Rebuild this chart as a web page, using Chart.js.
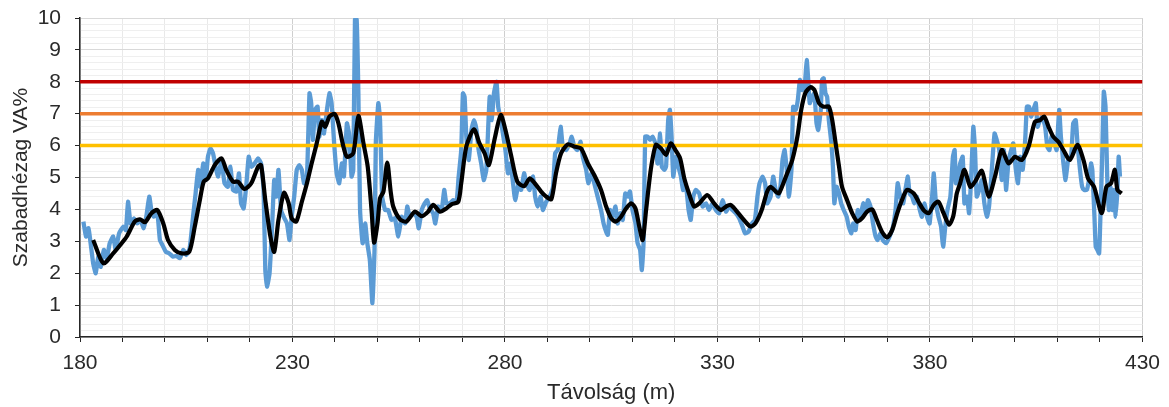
<!DOCTYPE html>
<html>
<head>
<meta charset="utf-8">
<script src="https://cdn.jsdelivr.net/npm/chart.js@4.4.1/dist/chart.umd.min.js"></script>
<style>
html, body { margin: 0; padding: 0; background: #fff; }
</style>
</head>
<body>
<canvas id="c" width="1169" height="407"></canvas>
<script>
'use strict';

// measured clearance (blue), [distance m, VA%]
var measured = [
	[180.8, 3.62], [181.4, 3.15], [182.0, 3.41], [182.5, 2.94], [183.1, 2.31], [183.7, 2.0],
	[184.3, 2.52], [184.9, 2.2], [185.6, 2.73], [186.3, 2.47], [187.0, 2.94], [187.8, 3.15],
	[188.4, 2.73], [189.2, 3.25], [190.2, 3.46], [190.8, 3.35], [191.3, 4.24], [191.9, 3.56],
	[192.7, 3.72], [193.5, 3.56], [194.2, 3.67], [195.0, 3.41], [195.6, 3.77], [196.3, 4.40],
	[196.8, 3.98], [197.4, 3.77], [198.2, 3.88], [198.8, 3.04], [199.4, 2.88], [200.2, 2.67],
	[201.0, 2.62], [201.9, 2.52], [202.7, 2.54], [203.5, 2.47], [204.3, 2.73], [205.0, 2.57],
	[205.8, 2.78], [206.6, 3.77], [207.2, 4.5], [207.8, 5.24], [208.3, 4.71], [209.0, 5.44],
	[209.6, 4.92], [210.1, 5.65], [210.7, 5.91], [211.3, 5.76], [211.9, 5.34], [212.5, 5.03],
	[213.3, 5.55], [214.0, 4.82], [214.8, 4.71], [215.4, 5.34], [216.0, 4.61], [216.8, 4.56],
	[217.4, 5.13], [217.9, 4.19], [218.5, 4.03], [219.1, 4.71], [219.7, 5.65], [220.3, 5.34],
	[221.1, 5.44], [221.9, 5.6], [222.6, 5.44], [223.2, 4.61], [223.6, 2.1], [224.0, 1.58],
	[224.6, 2.0], [225.2, 3.46], [225.7, 4.92], [226.2, 4.40], [226.7, 5.24], [227.3, 3.98],
	[227.9, 3.77], [228.7, 3.56], [229.3, 3.04], [229.8, 3.77], [230.4, 4.40], [231.0, 5.24],
	[231.6, 5.39], [232.2, 5.24], [232.7, 4.82], [233.4, 5.03], [234.0, 7.64], [234.4, 7.33],
	[234.8, 6.18], [235.3, 7.12], [235.9, 7.22], [236.3, 6.28], [236.9, 6.80], [237.4, 6.38],
	[238.1, 7.12], [238.7, 7.64], [239.2, 7.33], [239.8, 6.07], [240.4, 5.13], [241.0, 4.82],
	[241.6, 5.44], [242.1, 5.03], [242.8, 6.70], [243.3, 6.38], [243.9, 5.03], [244.3, 5.24],
	[244.7, 9.95], [245.1, 9.95], [245.5, 7.64], [245.9, 3.98], [246.5, 2.94], [247.1, 3.56],
	[247.6, 2.94], [248.2, 2.41], [248.8, 1.06], [249.3, 2.73], [249.6, 6.07], [250.2, 7.33],
	[250.6, 6.80], [251.1, 4.40], [251.8, 3.98], [252.5, 3.98], [253.3, 3.67], [254.1, 3.72],
	[254.9, 3.15], [255.7, 3.77], [256.5, 3.56], [257.0, 4.09], [257.6, 3.77], [258.4, 3.88],
	[259.2, 3.77], [259.7, 3.41], [260.4, 3.98], [261.1, 4.19], [261.7, 4.29], [262.3, 4.03],
	[263.1, 3.88], [263.6, 3.56], [264.3, 4.09], [265.1, 3.98], [265.7, 4.61], [266.2, 4.19],
	[267.0, 4.19], [267.8, 4.29], [268.6, 4.24], [269.1, 5.03], [269.7, 5.86], [270.1, 7.64],
	[270.5, 7.53], [270.9, 6.28], [271.5, 5.55], [272.1, 6.49], [272.7, 6.80], [273.3, 6.49],
	[273.8, 5.86], [274.4, 5.44], [275.0, 4.92], [275.6, 5.24], [276.4, 7.53], [276.9, 6.80],
	[277.4, 7.64], [278.0, 8.0], [278.4, 7.22], [279.0, 6.80], [279.5, 6.38], [280.1, 5.86],
	[280.7, 5.13], [281.3, 5.44], [281.9, 4.82], [282.4, 4.29], [283.2, 4.82], [283.8, 4.61],
	[284.5, 5.13], [285.0, 4.82], [285.8, 4.61], [286.6, 5.03], [287.1, 4.40], [287.7, 4.09],
	[288.4, 4.40], [288.9, 3.98], [289.7, 4.24], [290.5, 4.40], [291.3, 4.71], [291.8, 5.76],
	[292.4, 5.86], [293.1, 6.59], [293.6, 5.97], [294.4, 5.86], [295.2, 6.07], [295.7, 6.28],
	[296.3, 5.97], [297.0, 5.86], [297.8, 6.12], [298.3, 5.65], [299.1, 5.24], [299.6, 4.82],
	[300.3, 5.13], [301.0, 4.82], [301.8, 4.40], [302.6, 3.98], [303.2, 3.56], [303.8, 3.30],
	[304.2, 3.20], [304.7, 3.98], [305.3, 3.77], [306.0, 4.09], [306.5, 3.56], [307.1, 3.88],
	[307.7, 3.67], [308.3, 4.50], [308.9, 4.40], [309.4, 4.56], [310.0, 3.98], [310.7, 3.56],
	[311.2, 2.94], [311.8, 2.73], [312.2, 2.10], [312.6, 2.94], [313.0, 6.28], [313.6, 6.28],
	[314.1, 6.18], [314.7, 6.28], [315.4, 6.07], [315.9, 5.44], [316.5, 6.38], [316.9, 5.34],
	[317.5, 5.24], [317.9, 5.34], [318.4, 6.80], [318.8, 7.12], [319.2, 6.28], [319.6, 5.03],
	[320.2, 5.65], [320.8, 5.34], [321.4, 5.03], [321.9, 4.61], [322.6, 4.71], [323.2, 3.98],
	[323.7, 3.67], [324.3, 4.40], [324.9, 4.61], [325.7, 4.50], [326.5, 4.09], [327.3, 4.19],
	[328.0, 3.98], [328.8, 4.19], [329.6, 3.98], [330.4, 3.88], [331.2, 4.29], [332.0, 3.93],
	[332.7, 4.09], [333.5, 3.98], [334.3, 3.88], [335.1, 3.72], [335.9, 3.46], [336.5, 3.25],
	[337.3, 3.30], [338.1, 3.56], [338.8, 3.67], [339.4, 4.40], [339.9, 4.82], [340.6, 5.03],
	[341.2, 4.82], [341.7, 4.19], [342.5, 4.40], [343.1, 5.03], [343.7, 4.61], [344.3, 4.40],
	[344.8, 4.70], [345.3, 5.55], [345.8, 5.86], [346.3, 5.24], [346.8, 4.40], [347.4, 5.24],
	[347.8, 7.22], [348.4, 7.12], [348.9, 7.43], [349.4, 8.06], [349.9, 7.74], [350.5, 7.85],
	[351.0, 8.68], [351.4, 7.95], [351.7, 7.33], [352.3, 7.53], [352.8, 7.64], [353.3, 6.70],
	[353.7, 6.49], [354.3, 7.12], [354.6, 8.06], [355.0, 8.11], [355.4, 7.64], [355.8, 7.53],
	[356.2, 6.80], [356.8, 6.07], [357.2, 5.24], [357.5, 4.19], [358.0, 4.71], [358.6, 4.50],
	[359.1, 4.19], [359.7, 3.98], [360.4, 3.77], [360.9, 3.46], [361.5, 3.25], [361.9, 3.56],
	[362.5, 3.35], [363.0, 3.98], [363.6, 3.77], [364.3, 4.19], [364.8, 3.88], [365.4, 4.29],
	[366.0, 4.09], [366.6, 3.56], [367.2, 3.15], [367.7, 3.04], [368.3, 3.25], [368.9, 3.04],
	[369.7, 2.94], [370.5, 3.15], [371.3, 3.46], [371.9, 3.98], [372.4, 4.82], [373.0, 4.40],
	[373.7, 4.19], [374.2, 4.61], [374.8, 5.03], [375.2, 4.50], [375.8, 4.40], [376.3, 4.19],
	[376.9, 4.40], [377.6, 3.98], [378.1, 3.77], [378.7, 4.19], [379.3, 3.77], [379.9, 3.56],
	[380.5, 4.40], [380.9, 5.13], [381.4, 4.19], [382.0, 3.77], [382.6, 3.46], [383.1, 2.83],
	[383.6, 3.46], [384.1, 3.98], [384.8, 4.40], [385.4, 5.65], [385.8, 5.86], [386.1, 4.82],
	[386.6, 5.03], [387.1, 5.44], [387.7, 5.65], [388.1, 4.19], [388.7, 4.40], [389.2, 3.88],
	[389.7, 5.03], [390.2, 6.59], [390.6, 5.86], [391.0, 4.40], [391.6, 4.61], [392.2, 4.92],
	[392.8, 4.19], [393.4, 3.77], [393.9, 4.09], [394.6, 5.34], [395.2, 6.38], [395.7, 6.18],
	[396.3, 5.86], [396.9, 4.92], [397.4, 5.86], [397.9, 4.61], [398.5, 5.55], [399.1, 5.86],
	[399.6, 6.07], [400.2, 5.24], [400.7, 4.82], [401.2, 5.65], [401.8, 5.24], [402.4, 6.18],
	[402.8, 7.22], [403.3, 7.22], [403.8, 6.91], [404.3, 7.12], [404.9, 7.33], [405.3, 6.59],
	[405.9, 6.80], [406.4, 6.91], [407.1, 6.59], [407.6, 5.97], [408.1, 5.86], [408.6, 6.28],
	[409.3, 6.07], [409.8, 5.86], [410.4, 7.12], [410.8, 6.28], [411.4, 5.44], [411.9, 4.92],
	[412.5, 5.55], [413.2, 5.65], [413.7, 6.70], [414.3, 6.80], [414.7, 6.07], [415.3, 5.24],
	[415.8, 4.71], [416.3, 4.61], [416.9, 4.61], [417.4, 4.92], [417.9, 5.44], [418.2, 5.24],
	[418.7, 3.77], [419.0, 2.83], [419.4, 2.73], [419.8, 2.62], [420.1, 3.77], [420.5, 5.55],
	[420.9, 7.69], [421.3, 7.22], [421.7, 5.03], [422.1, 3.98], [422.5, 4.71], [422.9, 3.98],
	[423.3, 4.61], [423.7, 3.77], [424.1, 4.61], [424.4, 5.65], [424.7, 5.03]
];

// moving average (black), [distance m, VA%]
var average = [
	[183.1, 3.04], [185.5, 2.31], [187.8, 2.62], [189.8, 2.94], [191.0, 3.15], [192.9, 3.62],
	[194.1, 3.69], [195.3, 3.60], [196.8, 3.88], [198.2, 3.98], [199.6, 3.56], [200.7, 3.04],
	[202.3, 2.73], [203.9, 2.62], [205.7, 2.67], [207.0, 3.46], [208.2, 4.29], [209.1, 4.87],
	[210.1, 4.97], [211.7, 5.39], [213.3, 5.60], [214.4, 5.24], [216.0, 4.87], [217.2, 4.87],
	[218.7, 4.64], [220.3, 4.82], [221.9, 5.34], [222.6, 5.39], [223.6, 4.29], [224.8, 3.15],
	[225.7, 2.67], [226.7, 3.67], [228.0, 4.52], [229.1, 4.19], [229.8, 3.72], [230.9, 3.62],
	[232.2, 4.24], [233.4, 4.82], [234.5, 5.44], [235.7, 6.07], [236.9, 6.75], [237.7, 6.59],
	[238.7, 6.91], [239.9, 6.99], [240.8, 6.70], [241.8, 6.07], [242.8, 5.65], [244.3, 5.76],
	[245.5, 6.93], [246.7, 6.07], [247.7, 5.34], [248.6, 3.98], [249.2, 2.96], [250.0, 3.56],
	[250.6, 4.35], [251.4, 4.56], [252.3, 5.47], [253.1, 4.56], [253.7, 4.09], [255.3, 3.69],
	[256.8, 3.62], [258.8, 3.93], [260.4, 3.79], [261.9, 3.93], [263.1, 4.14], [264.7, 3.93],
	[266.2, 4.03], [267.4, 4.16], [269.0, 4.24], [269.7, 4.82], [270.9, 5.97], [272.7, 6.51],
	[274.0, 6.07], [275.2, 5.76], [276.2, 5.39], [277.6, 6.23], [279.0, 6.96], [280.3, 6.38],
	[281.5, 5.65], [282.9, 4.87], [284.5, 4.73], [285.8, 4.97], [287.0, 4.82], [288.5, 4.56],
	[289.7, 4.40], [290.9, 4.32], [292.0, 5.13], [293.2, 5.76], [294.8, 6.04], [296.3, 5.97],
	[297.9, 5.91], [299.5, 5.44], [301.0, 5.08], [302.6, 4.61], [303.8, 4.09], [305.0, 3.72],
	[306.1, 3.62], [307.3, 3.77], [308.5, 4.03], [309.7, 4.19], [310.7, 4.03], [311.6, 3.46],
	[312.4, 3.04], [313.2, 3.98], [314.3, 5.24], [315.5, 6.02], [316.7, 5.91], [317.9, 5.71],
	[319.0, 6.07], [320.1, 5.86], [321.2, 5.60], [322.2, 4.97], [323.3, 4.50], [324.5, 4.09],
	[325.7, 4.19], [327.6, 4.45], [329.2, 4.19], [330.8, 3.98], [332.0, 4.09], [333.1, 4.14],
	[334.3, 3.98], [335.9, 3.72], [337.8, 3.46], [339.0, 3.58], [340.4, 3.98], [341.7, 4.56],
	[342.5, 4.71], [343.7, 4.56], [344.4, 4.50], [345.3, 4.75], [346.4, 5.13], [347.6, 5.55],
	[348.8, 6.28], [349.7, 7.12], [350.7, 7.66], [351.9, 7.83], [352.8, 7.74], [353.9, 7.33],
	[355.0, 7.22], [356.2, 7.22], [357.0, 6.80], [357.8, 6.07], [358.6, 5.34], [359.3, 4.71],
	[360.5, 4.29], [361.7, 3.88], [362.9, 3.62], [364.0, 3.72], [365.2, 3.93], [366.4, 4.00],
	[367.5, 3.67], [368.7, 3.30], [369.9, 3.12], [371.1, 3.35], [372.3, 3.88], [373.4, 4.29],
	[374.6, 4.61], [376.2, 4.50], [377.3, 4.24], [378.5, 3.98], [379.7, 3.88], [380.9, 4.14],
	[382.0, 4.24], [383.2, 3.88], [384.5, 3.52], [385.5, 3.80], [386.3, 4.50], [387.1, 4.82],
	[388.1, 5.24], [389.5, 4.71], [390.6, 4.87], [392.2, 5.21], [393.8, 4.40], [395.3, 5.03],
	[396.9, 5.86], [398.5, 5.44], [400.0, 5.65], [401.6, 5.55], [403.2, 5.97], [404.7, 6.75],
	[405.9, 6.80], [406.9, 6.91], [407.9, 6.59], [409.0, 6.28], [410.2, 6.12], [411.4, 5.86],
	[412.9, 5.55], [414.7, 6.02], [416.1, 5.55], [417.2, 4.97], [418.6, 4.71], [420.4, 3.88],
	[421.5, 4.71], [422.6, 4.82], [423.5, 5.24], [424.1, 4.61], [425.1, 4.50]
];

// limit lines
var limitLevels = [8, 7, 6];
var limitColors = ['#c00000', '#ed7d31', '#ffc000'];

var xMin = 180,
	xMax = 430,
	xLabelStep = 50,
	TEXT = '#2a2a2a',
	AXIS = '#262626';

var toPoints = function (rows) {
	return rows.map(function (r) {
		return { x: r[0], y: r[1] };
	});
};

var isWhole = function (v) {
	return Math.abs(v - Math.round(v)) < 1e-6;
};

// labelled x positions are 180, 230, 280 ... (counted from the axis start)
var isLabelled = function (v) {
	return isWhole((v - xMin) / xLabelStep);
};

var datasets = [{
	data: toPoints(average),
	borderColor: '#000000',
	borderWidth: 4.2,
	tension: 0.25,
	order: 0
}];

limitLevels.forEach(function (level, i) {
	datasets.push({
		data: [{ x: xMin, y: level }, { x: xMax, y: level }],
		borderColor: limitColors[i],
		borderWidth: 3.5,
		tension: 0,
		order: 1
	});
});

datasets.push({
	data: toPoints(measured),
	borderColor: '#5b9bd5',
	borderWidth: 4.3,
	tension: 0.15,
	order: 2
});

Chart.defaults.font.family = "'Liberation Sans', Arial, sans-serif";

new Chart(document.getElementById('c'), {
	type: 'line',
	data: { datasets: datasets },
	options: {
		responsive: false,
		animation: false,
		devicePixelRatio: 1,
		layout: { padding: { left: 0, right: 23, top: 18, bottom: 0 } },
		elements: { point: { radius: 0 } },
		plugins: { legend: { display: false }, tooltip: { enabled: false } },
		scales: {
			x: {
				type: 'linear',
				min: xMin,
				max: xMax,
				afterFit: function (scale) { scale.height = 70; },
				ticks: {
					stepSize: 10,
					autoSkip: false,
					maxRotation: 0,
					padding: 9,
					color: TEXT,
					font: { size: 21 },
					callback: function (v) {
						return isLabelled(v) ? String(v) : '';
					}
				},
				grid: {
					color: function (ctx) {
						return ctx.tick && isLabelled(ctx.tick.value) ? '#cfcfcf' : '#e9e9e9';
					},
					tickColor: AXIS,
					tickLength: 5
				},
				border: { color: AXIS, width: 1.5 },
				title: {
					display: true,
					text: 'Távolság (m)',
					color: TEXT,
					font: { size: 22 },
					padding: { top: 0, bottom: 1 }
				}
			},
			y: {
				min: 0,
				max: 10,
				afterFit: function (scale) {
					scale.width = 80;
					// label padding would otherwise push the plot top down
					scale.paddingTop = 0;
					scale.paddingBottom = 0;
				},
				ticks: {
					stepSize: 0.2,
					maxTicksLimit: 100,
					autoSkip: false,
					padding: 14,
					color: TEXT,
					font: { size: 21 },
					callback: function (v) {
						return isWhole(v) ? String(Math.round(v)) : '';
					}
				},
				grid: {
					color: function (ctx) {
						return ctx.tick && isWhole(ctx.tick.value) ? '#d9d9d9' : '#efefef';
					},
					tickColor: function (ctx) {
						return ctx.tick && isWhole(ctx.tick.value) ? AXIS : 'rgba(0,0,0,0)';
					},
					tickLength: 5
				},
				border: { color: AXIS, width: 1.5 },
				title: {
					display: true,
					text: 'Szabadhézag VA%',
					color: TEXT,
					font: { size: 21 },
					padding: { top: 9, bottom: 0 }
				}
			}
		}
	}
});
</script>
</body>
</html>
